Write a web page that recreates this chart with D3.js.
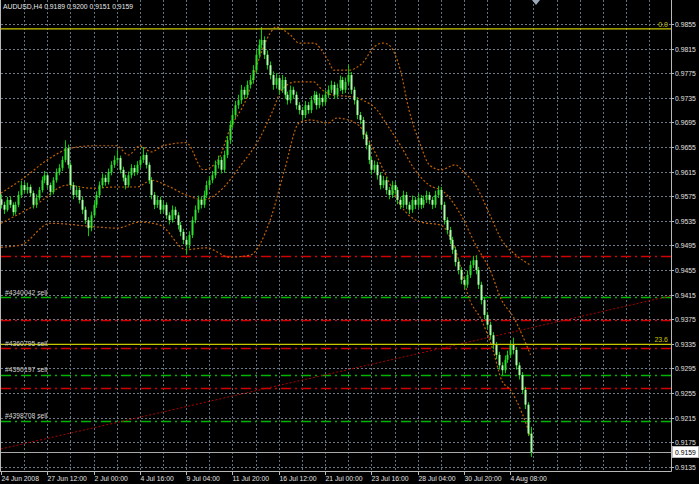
<!DOCTYPE html>
<html><head><meta charset="utf-8">
<script src="https://cdn.jsdelivr.net/npm/d3@7"></script>
<style>html,body{margin:0;padding:0;background:#000;}svg{display:block;}</style>
</head><body><svg id="c" width="699" height="484"></svg>
<script>
// ---- data (prices in pips, 0.0001) ----
const opens = [9570,9561,9553,9569,9561,9549,9561,9577,9593,9585,
9590,9580,9561,9572,9585,9601,9609,9593,9582,9601,
9614,9621,9634,9653,9626,9593,9577,9585,9569,9553,
9536,9523,9544,9561,9577,9593,9605,9598,9614,9626,
9634,9637,9618,9605,9593,9609,9621,9614,9626,9634,
9642,9626,9601,9577,9561,9569,9553,9561,9544,9536,
9553,9544,9528,9517,9504,9496,9512,9536,9553,9569,
9561,9577,9593,9601,9609,9626,9634,9618,9642,9666,
9691,9707,9723,9731,9748,9740,9756,9764,9780,9805,
9821,9829,9805,9788,9772,9756,9767,9748,9764,9740,
9731,9748,9740,9723,9715,9707,9723,9715,9731,9740,
9723,9735,9728,9740,9748,9756,9740,9751,9764,9748,
9761,9772,9748,9731,9707,9699,9675,9658,9634,9618,
9626,9609,9593,9601,9585,9577,9593,9585,9569,9561,
9577,9561,9553,9569,9561,9572,9561,9569,9577,9569,
9561,9577,9585,9561,9536,9520,9504,9488,9468,9455,
9439,9431,9447,9463,9471,9455,9431,9406,9382,9366,
9349,9333,9317,9300,9292,9309,9317,9333,9325,9300,
9284,9260,9236,9189];
const highs = [9578,9566,9574,9575,9565,9566,9583,9600,9598,9597,
9594,9584,9578,9590,9607,9616,9612,9597,9606,9620,
9627,9640,9666,9659,9630,9598,9592,9589,9574,9558,
9541,9550,9567,9583,9599,9612,9610,9620,9632,9641,
9650,9641,9623,9610,9615,9627,9626,9632,9640,9655,
9646,9630,9606,9582,9576,9574,9568,9565,9549,9560,
9558,9549,9533,9522,9510,9518,9542,9560,9576,9574,
9584,9600,9608,9616,9633,9641,9639,9649,9673,9698,
9715,9730,9740,9756,9753,9763,9772,9788,9813,9830,
9850,9835,9812,9794,9778,9775,9772,9772,9769,9745,
9755,9753,9745,9728,9720,9730,9728,9738,9746,9745,
9742,9740,9747,9755,9763,9761,9758,9771,9769,9768,
9788,9777,9753,9736,9712,9704,9680,9663,9639,9633,
9631,9614,9608,9606,9590,9600,9598,9590,9574,9584,
9582,9566,9576,9574,9579,9577,9576,9584,9582,9574,
9584,9592,9590,9566,9541,9525,9509,9493,9473,9460,
9444,9454,9470,9478,9479,9460,9436,9411,9387,9371,
9354,9338,9322,9305,9316,9324,9340,9345,9330,9305,
9289,9265,9240,9200];
const lows = [9555,9546,9550,9556,9543,9545,9557,9572,9580,9579,
9574,9555,9556,9568,9581,9596,9588,9576,9578,9597,
9609,9616,9630,9620,9588,9570,9573,9563,9546,9530,
9510,9518,9540,9556,9572,9588,9592,9594,9609,9621,
9628,9612,9599,9586,9589,9604,9608,9610,9621,9629,
9620,9595,9570,9554,9556,9546,9548,9538,9529,9532,
9538,9521,9510,9497,9480,9490,9507,9531,9548,9555,
9556,9572,9588,9596,9604,9620,9612,9613,9637,9660,
9686,9701,9717,9725,9733,9735,9750,9758,9775,9799,
9815,9798,9781,9765,9748,9750,9740,9743,9733,9724,
9726,9733,9716,9708,9699,9702,9709,9710,9726,9716,
9718,9721,9723,9735,9743,9733,9735,9746,9741,9743,
9756,9741,9724,9700,9692,9668,9651,9627,9610,9613,
9602,9586,9588,9578,9570,9572,9578,9562,9554,9556,
9554,9546,9548,9554,9556,9554,9556,9564,9562,9554,
9556,9572,9554,9529,9513,9497,9481,9461,9448,9432,
9424,9426,9442,9458,9448,9424,9399,9375,9359,9342,
9326,9310,9293,9284,9287,9304,9312,9318,9293,9277,
9253,9229,9185,9151];
const closes = [9561,9553,9569,9561,9549,9561,9577,9593,9585,9590,
9580,9561,9572,9585,9601,9609,9593,9582,9601,9614,
9621,9634,9653,9626,9593,9577,9585,9569,9553,9536,
9523,9544,9561,9577,9593,9605,9598,9614,9626,9634,
9637,9618,9605,9593,9609,9621,9614,9626,9634,9642,
9626,9601,9577,9561,9569,9553,9561,9544,9536,9553,
9544,9528,9517,9504,9496,9512,9536,9553,9569,9561,
9577,9593,9601,9609,9626,9634,9618,9642,9666,9691,
9707,9723,9731,9748,9740,9756,9764,9780,9805,9821,
9829,9805,9788,9772,9756,9767,9748,9764,9740,9731,
9748,9740,9723,9715,9707,9723,9715,9731,9740,9723,
9735,9728,9740,9748,9756,9740,9751,9764,9748,9761,
9772,9748,9731,9707,9699,9675,9658,9634,9618,9626,
9609,9593,9601,9585,9577,9593,9585,9569,9561,9577,
9561,9553,9569,9561,9572,9561,9569,9577,9569,9561,
9577,9585,9561,9536,9520,9504,9488,9468,9455,9439,
9431,9447,9463,9471,9455,9431,9406,9382,9366,9349,
9333,9317,9300,9292,9309,9317,9333,9325,9300,9284,
9260,9236,9189,9159];

// Bollinger bands (at bar indices)
const bbUpperBars = [0,8,16,24,32,40,44,48,52,56,64,70,75,79,85,89,93,95,100,103,108,113,115,120,125,129,132,134,138,141,145,148,152,157,160,164,169,173,178,183];
const bbUpper     = [9580,9605,9634,9653,9657,9657,9642,9657,9647,9657,9662,9618,9634,9683,9736,9796,9840,9850,9837,9824,9824,9796,9780,9780,9792,9818,9824,9821,9780,9715,9658,9626,9618,9626,9614,9593,9544,9504,9479,9463];
const bbMidBars = [0,7,12,23,31,40,47,52,57,64,70,76,83,89,94,97,102,108,111,114,122,125,130,133,138,143,148,153,159,164,169,173,177,183];
const bbMid     = [9531,9548,9561,9593,9588,9590,9590,9601,9593,9577,9569,9585,9626,9666,9715,9748,9761,9761,9748,9740,9736,9731,9715,9694,9658,9618,9593,9582,9544,9496,9455,9406,9379,9317];
const bbLowerBars = [0,7,17,33,40,48,55,64,71,79,86,93,98,103,107,113,116,120,125,128,133,138,145,152,157,162,166,170,173,176,180,183];
const bbLower     = [9492,9496,9531,9525,9523,9533,9528,9488,9491,9476,9479,9536,9618,9694,9699,9694,9702,9699,9683,9658,9609,9561,9533,9528,9488,9406,9374,9325,9276,9260,9223,9184];

// axis labels
const priceTicks = ["0.9135","0.9175","0.9215","0.9255","0.9295","0.9335","0.9375","0.9415","0.9455","0.9495","0.9535","0.9575","0.9615","0.9655","0.9695","0.9735","0.9775","0.9815","0.9855"];
const timeLabels = ["24 Jun 2008","27 Jun 12:00","2 Jul 00:00","4 Jul 16:00","9 Jul 04:00","11 Jul 20:00","16 Jul 12:00","21 Jul 00:00","23 Jul 16:00","28 Jul 04:00","30 Jul 20:00","4 Aug 08:00"];
const timeLabelBars = [0,16,32,48,64,80,96,112,128,144,160,176];

// levels
const redLevels = [9478, 9374, 9328, 9263];
const greenLevels = [9411, 9285, 9210];
const fiboLevels = [9847, 9334];
const fiboNames = ["0.0", "23.6"];
const orderNames = ["#4340042 sell", "#4360795 sell", "#4390197 sell", "#4398708 sell"];
const orderPrices = [9411, 9328, 9285, 9210];
const trendBars = [0, 231.5];
const trendPrices = [9164, 9413];
const currentPrice = 9159;
const title = "AUDUSD,H4  0.9189 0.9200 0.9151 0.9159";

// ---- drawing ----
const W = 699, H = 484, plotR = 671, plotB = 471;
const svg = d3.select("#c");
const FONT = "'Liberation Sans', Arial, sans-serif";
svg.append("rect").attr("width", W).attr("height", H).attr("fill", "#000");

const x = d3.scaleLinear().domain([0, 176]).range([1, 510.3]);
const y = d3.scaleLinear().domain([9135, 9855]).range([466.8, 24]);
const fmt = p => (p / 10000).toFixed(4);
const px = v => Math.round(v) + 0.5;

// grid
const grid = svg.append("g");
priceTicks.forEach(t => {
  const yy = px(y(+t * 10000));
  grid.append("line").attr("x1", 1).attr("x2", plotR).attr("y1", yy).attr("y2", yy)
    .attr("stroke", "#6e7a86").attr("stroke-dasharray", "2,2");
});
for (let b = 8; x(b) < plotR - 2; b += 8) {
  const xx = px(x(b));
  grid.append("line").attr("x1", xx).attr("x2", xx).attr("y1", 0).attr("y2", plotB)
    .attr("stroke", "#5e7282").attr("stroke-dasharray", "2,2");
}

// horizontal levels
const lv = svg.append("g");
redLevels.forEach(p => {
  const yy = px(y(p));
  lv.append("line").attr("x1", 1).attr("x2", plotR).attr("y1", yy).attr("y2", yy)
    .attr("stroke", "#d20000").attr("stroke-width", 1.3).attr("stroke-dasharray", "10,4,2,4");
});
greenLevels.forEach(p => {
  const yy = px(y(p));
  lv.append("line").attr("x1", 1).attr("x2", plotR).attr("y1", yy).attr("y2", yy)
    .attr("stroke", "#00b400").attr("stroke-width", 1.3).attr("stroke-dasharray", "10,4,2,4");
});
// trend line
lv.append("line").attr("x1", x(trendBars[0])).attr("x2", x(trendBars[1]))
  .attr("y1", y(trendPrices[0])).attr("y2", y(trendPrices[1]))
  .attr("stroke", "#b00000").attr("stroke-dasharray", "2,2");
// current price line
lv.append("line").attr("x1", 1).attr("x2", plotR).attr("y1", px(y(currentPrice))).attr("y2", px(y(currentPrice)))
  .attr("stroke", "#a8a8a8");

// bollinger bands
const bandLine = (bars, vals) => d3.line().curve(d3.curveMonotoneX)
  .x((d, i) => x(bars[i])).y(d => y(d))(vals);
[[bbUpperBars, bbUpper], [bbMidBars, bbMid], [bbLowerBars, bbLower]].forEach(([b, v]) => {
  svg.append("path").attr("d", bandLine(b, v)).attr("fill", "none")
    .attr("stroke", "#c06000").attr("stroke-width", 1.2).attr("stroke-dasharray", "2,2");
});

// candles
const cg = svg.append("g");
opens.forEach((o, i) => {
  const c = closes[i];
  const cx = Math.round(x(i));
  cg.append("line").attr("x1", cx + 0.5).attr("x2", cx + 0.5)
    .attr("y1", y(highs[i])).attr("y2", y(lows[i]))
    .attr("stroke", "#00d000");
  const top = y(Math.max(o, c)), bot = y(Math.min(o, c));
  cg.append("rect").attr("x", cx - 0.5).attr("width", 2)
    .attr("y", top).attr("height", Math.max(1, bot - top))
    .attr("fill", c < o ? "#a8ffa8" : "#30e030");
});

// fibo lines
fiboLevels.forEach((p, i) => {
  const yy = y(p);
  svg.append("line").attr("x1", 1).attr("x2", plotR).attr("y1", yy).attr("y2", yy)
    .attr("stroke", "#c8c800").attr("stroke-width", 1.4);
  svg.append("text").attr("x", plotR - 3).attr("y", yy - 2).attr("text-anchor", "end")
    .attr("fill", "#c8c800").attr("font-family", FONT).attr("font-size", 7).text(fiboNames[i]);
});

// order labels
orderNames.forEach((n, i) => {
  svg.append("text").attr("x", 5).attr("y", y(orderPrices[i]) - 2.5)
    .attr("fill", "#d0d0d0").attr("font-family", FONT).attr("font-size", 6.8).text(n);
});

// frame
svg.append("line").attr("x1", 0.5).attr("x2", 0.5).attr("y1", 0).attr("y2", plotB).attr("stroke", "#b8b8b8");
svg.append("line").attr("x1", plotR + 0.5).attr("x2", plotR + 0.5).attr("y1", 0).attr("y2", plotB + 0.5).attr("stroke", "#b8b8b8");
svg.append("line").attr("x1", 0).attr("x2", plotR + 0.5).attr("y1", plotB + 0.5).attr("y2", plotB + 0.5).attr("stroke", "#b8b8b8");

// right axis
priceTicks.forEach(t => {
  const yy = px(y(+t * 10000));
  svg.append("line").attr("x1", plotR).attr("x2", plotR + 3).attr("y1", yy).attr("y2", yy).attr("stroke", "#b8b8b8");
  svg.append("text").attr("x", plotR + 4).attr("y", yy + 2.5).attr("fill", "#e0e0e0")
    .attr("font-family", FONT).attr("font-size", 6.8).text(t);
});
// current price box
const cy = y(currentPrice);
svg.append("rect").attr("x", plotR + 1.5).attr("y", Math.round(cy) - 5.5).attr("width", 26).attr("height", 11)
  .attr("fill", "#fff").attr("stroke", "#b8b8b8");
svg.append("text").attr("x", plotR + 4).attr("y", cy + 2.5).attr("fill", "#000")
  .attr("font-family", FONT).attr("font-size", 6.8).text(fmt(currentPrice));

// bottom axis
timeLabels.forEach((t, i) => {
  const xx = px(x(timeLabelBars[i]));
  svg.append("line").attr("x1", xx).attr("x2", xx).attr("y1", plotB).attr("y2", plotB + 4).attr("stroke", "#b8b8b8");
  svg.append("text").attr("x", xx).attr("y", 481).attr("fill", "#e0e0e0")
    .attr("font-family", FONT).attr("font-size", 6.8).text(t);
});

// title
svg.append("text").attr("x", 3).attr("y", 9).attr("fill", "#e8e8e8")
  .attr("font-family", FONT).attr("font-size", 6.8).text(title);

// shift marker
svg.append("path").attr("d", "M532,0 L540,0 L536,5 Z").attr("fill", "#9aa8b8");
</script></body></html>
